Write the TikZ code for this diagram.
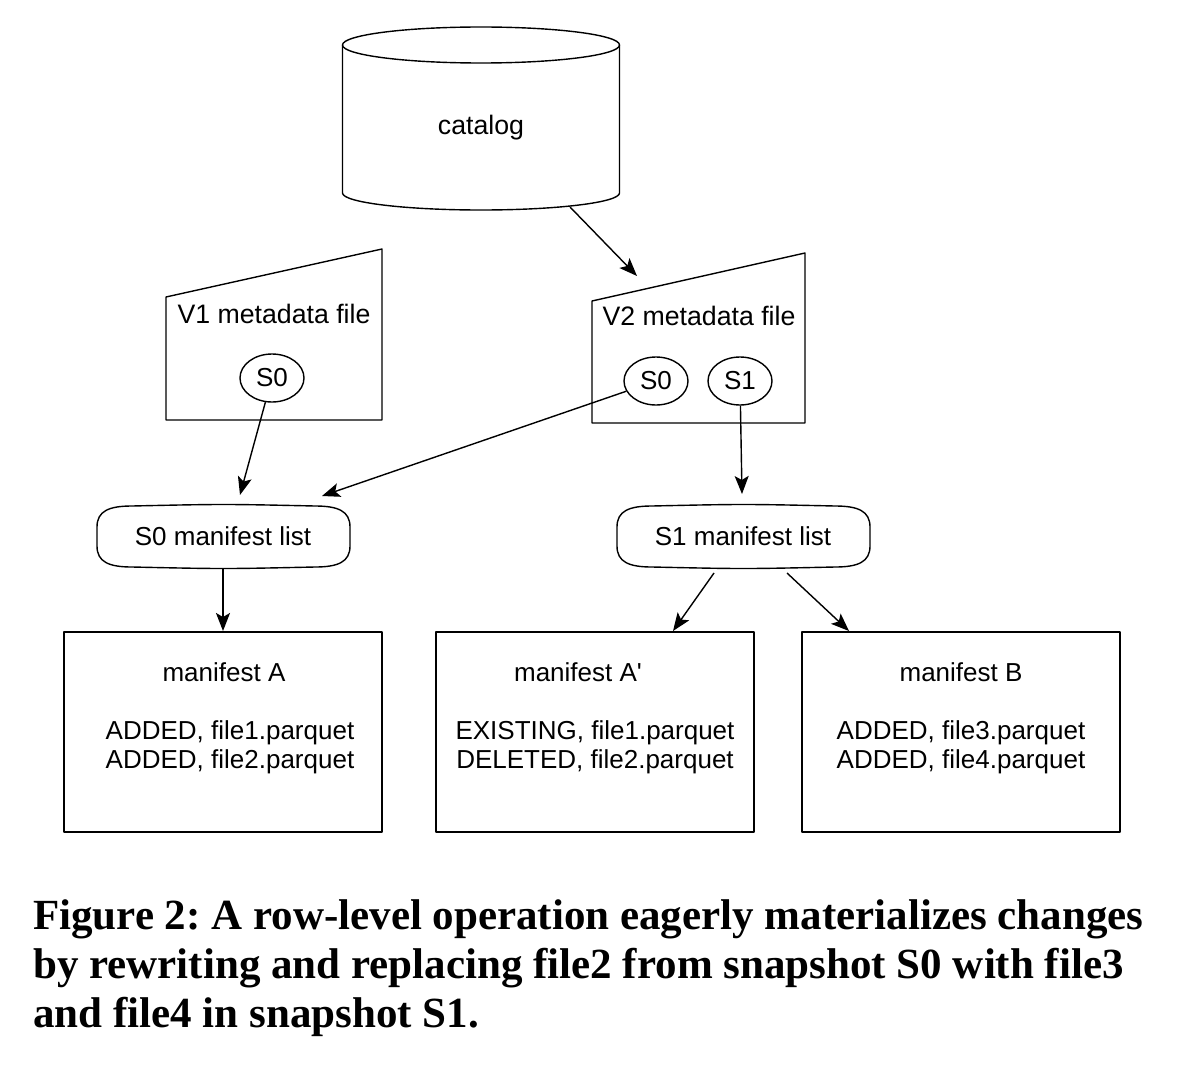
\documentclass[tikz,border=0pt]{standalone}
\usepackage{fontspec}
\setmainfont{Liberation Sans}
\newfontfamily\capfont{Liberation Serif}
\usetikzlibrary{arrows.meta,shapes.geometric}
\tikzset{
  ln/.style={line width=1.4pt, line join=round},
  arr/.style={ln, -{Stealth[length=18pt,width=14pt,inset=4pt]}},
  txt/.style={font=\fontsize{26}{30}\selectfont, inner sep=0pt},
  ttl/.style={font=\fontsize{26.7}{30}\selectfont, inner sep=0pt},
  snap/.style={ln, draw, ellipse, minimum width=64pt, minimum height=48pt, inner sep=0pt, font=\fontsize{26}{30}\selectfont},
  mbox/.style={ln, draw, minimum width=318pt, minimum height=200pt, inner sep=0pt},
  captext/.style={font=\capfont\bfseries\fontsize{43}{49}\selectfont, inner sep=0pt, anchor=base west}
}
\frenchspacing
\begin{document}
\begin{tikzpicture}[x=1pt,y=-1pt]
\useasboundingbox (0,0) rectangle (1188,1070);
\fill[white] (0,0) rectangle (1188,1070);

% catalog cylinder
\draw[ln] (342.5,45) -- (342.5,193) arc[start angle=180,end angle=360,x radius=138.5,y radius=-17] -- (619.5,45);
\draw[ln] (481,45) ellipse[x radius=138.5, y radius=18];
\node[ttl] (catalog) at (481,128) {catalog};
\coordinate (catbot) at (570,207);

% V1 metadata file
\draw[ln] (166,297) -- (382,249) -- (382,420) -- (166,420) -- cycle;
\node[ttl] (v1t) at (274,314) {V1 metadata file};
\node[snap] (v1s0) at (272,378) {S0};

% V2 metadata file
\draw[ln] (592,301) -- (805,253) -- (805,423) -- (592,423) -- cycle;
\coordinate (v2top) at (637,276);
\node[ttl] (v2t) at (699,316) {V2 metadata file};
\node[snap] (v2s0) at (656,381) {S0};
\node[snap] (v2s1) at (740,381) {S1};

% manifest lists
\newcommand\mlist[4]{% x0 y0 x1 y1
  \draw[ln] (#1,#2+22) .. controls (#1,#2+6) and (#1+12,#2+1) .. (#1+35,#2+1)
    .. controls ({(#1+#3)/2},#2-1) .. (#3-35,#2+1)
    .. controls (#3-12,#2+1) and (#3,#2+6) .. (#3,#2+22)
    -- (#3,#4-22)
    .. controls (#3,#4-6) and (#3-12,#4-1) .. (#3-35,#4-1)
    .. controls ({(#1+#3)/2},#4+1) .. (#1+35,#4-1)
    .. controls (#1+12,#4-1) and (#1,#4-6) .. (#1,#4-22)
    -- cycle;}
\mlist{97}{505}{350}{568}
\mlist{617}{505}{870}{568}
\node[txt] (l0) at (223,536) {S0 manifest list};
\node[txt] (l1) at (743,536) {S1 manifest list};
\coordinate (l0top) at (240,495);
\coordinate (l0tr) at (322,496);
\coordinate (l1top) at (742,494);
\coordinate (l0bot) at (223,568);
\coordinate (l1bl) at (714,573);
\coordinate (l1br) at (787,573);

% manifest boxes
\node[mbox] (mA) at (223,732) {};
\node[mbox] (mAp) at (595,732) {};
\node[mbox] (mB) at (961,732) {};
\node[txt] at (224,672) {manifest A};
\node[txt] at (230,733) {ADDED, file1.parquet};
\node[txt] at (230,762) {ADDED, file2.parquet};
\node[txt] at (578,672) {manifest A\textquotesingle};
\node[txt] at (595,733) {EXISTING, file1.parquet};
\node[txt] at (595,762) {DELETED, file2.parquet};
\node[txt] at (961,672) {manifest B};
\node[txt] at (961,733) {ADDED, file3.parquet};
\node[txt] at (961,762) {ADDED, file4.parquet};
\coordinate (mAtop) at (223,631);
\coordinate (mAptop) at (673,631);
\coordinate (mBtop) at (849,631);

% connectors
\draw[arr] (catbot) -- (v2top);
\draw[arr] (v1s0) -- (l0top);
\draw[arr] (v2s0) -- (l0tr);
\draw[arr] (v2s1) -- (l1top);
\draw[arr] (l0bot) -- (mAtop);
\draw[arr] (l1bl) -- (mAptop);
\draw[arr] (l1br) -- (mBtop);

% caption
\node[captext] (c1) at (33,929) {Figure 2: A row-level operation eagerly materializes changes};
\node[captext] (c2) at (33,978) {by rewriting and replacing file2 from snapshot S0 with file3};
\node[captext] (c3) at (33,1027) {and file4 in snapshot S1.};
\end{tikzpicture}
\end{document}
